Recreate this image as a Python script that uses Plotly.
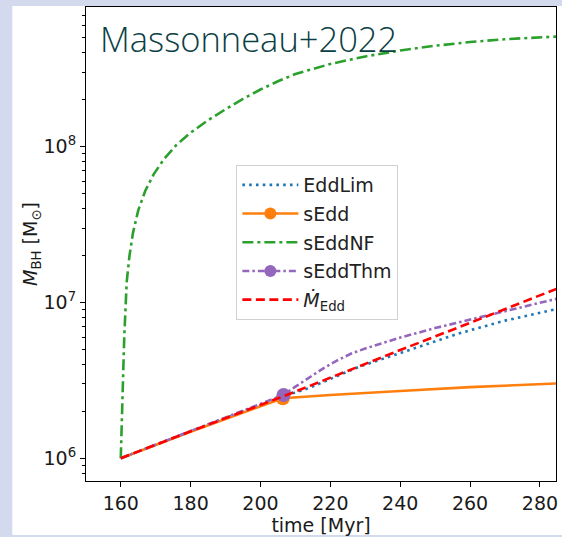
import plotly.graph_objects as go

# ---- data ----
t_edd = [160, 180, 206.4, 220, 240, 260, 285]
m_edd = [1.0e6, 1.49e6, 2.49e6, 3.3e6, 4.95e6, 7.4e6, 1.23e7]

t_eddlim = [160, 180, 206.4, 214, 228, 240, 257, 270, 285]
m_eddlim = [1.0e6, 1.49e6, 2.49e6, 2.83e6, 3.85e6, 4.75e6, 6.35e6, 7.65e6, 9.1e6]

t_sedd = [160, 180, 206.4, 220, 240, 260, 285]
m_sedd = [1.0e6, 1.48e6, 2.43e6, 2.55e6, 2.7e6, 2.86e6, 3.02e6]

t_seddnf = [160, 160.5, 161, 161.7, 162.5, 163.5, 165, 167, 169.5, 172.5, 176, 180,
            185, 190, 195, 200, 205, 210, 220, 230, 240, 250, 260, 270, 285]
m_seddnf = [1.0e6, 3.0e6, 6.0e6, 1.35e7, 2.0e7, 2.8e7, 3.9e7, 5.2e7, 6.7e7, 8.4e7,
            1.03e8, 1.23e8, 1.48e8, 1.74e8, 2.03e8, 2.33e8, 2.63e8, 2.93e8, 3.4e8,
            3.8e8, 4.15e8, 4.45e8, 4.7e8, 4.9e8, 5.1e8]

t_seddthm = [160, 180, 206.6, 210, 214, 218, 222, 226, 230, 235, 240, 250, 260, 270, 285]
m_seddthm = [1.0e6, 1.49e6, 2.55e6, 2.88e6, 3.3e6, 3.78e6, 4.25e6, 4.7e6, 5.07e6, 5.5e6,
             5.95e6, 6.85e6, 7.75e6, 8.75e6, 1.06e7]

t_mark_sedd, m_mark_sedd = [206.4], [2.43e6]
t_mark_thm, m_mark_thm = [206.6], [2.55e6]

x_ticks = [160, 180, 200, 220, 240, 260, 280]
y_ticks = [1e6, 1e7, 1e8]
y_ticktext = ["10<sup>6</sup>", "10<sup>7</sup>", "10<sup>8</sup>"]

BLUE, ORANGE, GREEN, PURPLE, RED = "#1f77b4", "#ff7f0e", "#2ca02c", "#9467bd", "#ff0000"
LW = 2.6
TXT = "#1a1a1a"

fig = go.Figure()

fig.add_trace(go.Scatter(x=t_eddlim, y=m_eddlim, mode="lines", name="EddLim",
                         legendgroup="g1",
                         line=dict(color=BLUE, width=LW, dash="2.6px,4.2px")))
# sEdd
fig.add_trace(go.Scatter(x=t_sedd, y=m_sedd, mode="lines", showlegend=False,
                         line=dict(color=ORANGE, width=LW)))
fig.add_trace(go.Scatter(x=t_mark_sedd, y=m_mark_sedd, mode="markers", showlegend=False,
                         marker=dict(color=ORANGE, size=14)))
fig.add_trace(go.Scatter(x=[None], y=[None], mode="lines+markers", name="sEdd",
                         legendgroup="g2",
                         line=dict(color=ORANGE, width=LW), marker=dict(color=ORANGE, size=12)))
# sEddNF
fig.add_trace(go.Scatter(x=t_seddnf, y=m_seddnf, mode="lines", name="sEddNF",
                         legendgroup="g3",
                         line=dict(color=GREEN, width=LW, dash="11px,4px,3px,4px")))
# sEddThm
fig.add_trace(go.Scatter(x=t_seddthm, y=m_seddthm, mode="lines", showlegend=False,
                         line=dict(color=PURPLE, width=LW, dash="7px,3px,2.5px,3px")))
fig.add_trace(go.Scatter(x=t_mark_thm, y=m_mark_thm, mode="markers", showlegend=False,
                         marker=dict(color=PURPLE, size=14)))
fig.add_trace(go.Scatter(x=[None], y=[None], mode="lines+markers", name="sEddThm",
                         legendgroup="g4",
                         line=dict(color=PURPLE, width=LW, dash="7px,3px,2.5px,3px"),
                         marker=dict(color=PURPLE, size=12)))
# Mdot_Edd
fig.add_trace(go.Scatter(x=t_edd, y=m_edd, mode="lines", name="<i>Ṁ</i><sub>Edd</sub>",
                         legendgroup="g5",
                         line=dict(color=RED, width=LW, dash="9px,4.5px")))

L, R, T, B = 86, 558, 7, 481
W, H = R - L, B - T
def px_x(p):
    return (p - L) / W
def px_y(p):
    return (B - p) / H

fig.update_layout(
    width=562, height=537,
    margin=dict(l=L, r=562 - R, t=T, b=537 - B),
    paper_bgcolor="#d4daee",
    plot_bgcolor="white",
    font=dict(family="DejaVu Sans", color=TXT),
    showlegend=True,
    legend=dict(x=px_x(237), y=px_y(165), xanchor="left", yanchor="top",
                bgcolor="rgba(255,255,255,0.85)", bordercolor="#d0d0d0", borderwidth=1,
                font=dict(size=19, family="DejaVu Sans", color="#222222"),
                tracegroupgap=1, itemwidth=56),
    shapes=[dict(type="rect", xref="paper", yref="paper", layer="below",
                 x0=px_x(12), x1=px_x(570), y0=px_y(535), y1=px_y(6),
                 fillcolor="white", line=dict(width=0))],
    annotations=[dict(text="Massonneau+2022", xref="paper", yref="paper",
                      x=px_x(98), y=px_y(13), xanchor="left", yanchor="top",
                      showarrow=False,
                      font=dict(family="Open Sans", size=34.5, color="#0a4044", weight=300))],
)

fig.update_xaxes(range=[150.05, 284.6], tickvals=x_ticks,
                 showgrid=False, zeroline=False,
                 showline=True, linecolor="black", linewidth=1, mirror=True,
                 ticks="outside", ticklen=5, tickcolor="black",
                 tickfont=dict(size=19, family="DejaVu Sans", color=TXT),
                 title=dict(text="time [Myr]", font=dict(size=19, family="DejaVu Sans", color=TXT),
                            standoff=1))
fig.update_yaxes(type="log", range=[5.854, 8.897], tickvals=y_ticks, ticktext=y_ticktext,
                 showgrid=False, zeroline=False,
                 showline=True, linecolor="black", linewidth=1, mirror=True,
                 ticks="outside", ticklen=5, tickcolor="black",
                 minor=dict(ticks="outside", ticklen=3, tickcolor="black", dtick="D1", showgrid=False),
                 tickfont=dict(size=19, family="DejaVu Sans", color=TXT),
                 title=dict(text="<i>M</i><sub>BH</sub> [M<sub>⊙</sub>]",
                            font=dict(size=19, family="DejaVu Sans", color=TXT),
                            standoff=0))

fig.write_html("out.html")
